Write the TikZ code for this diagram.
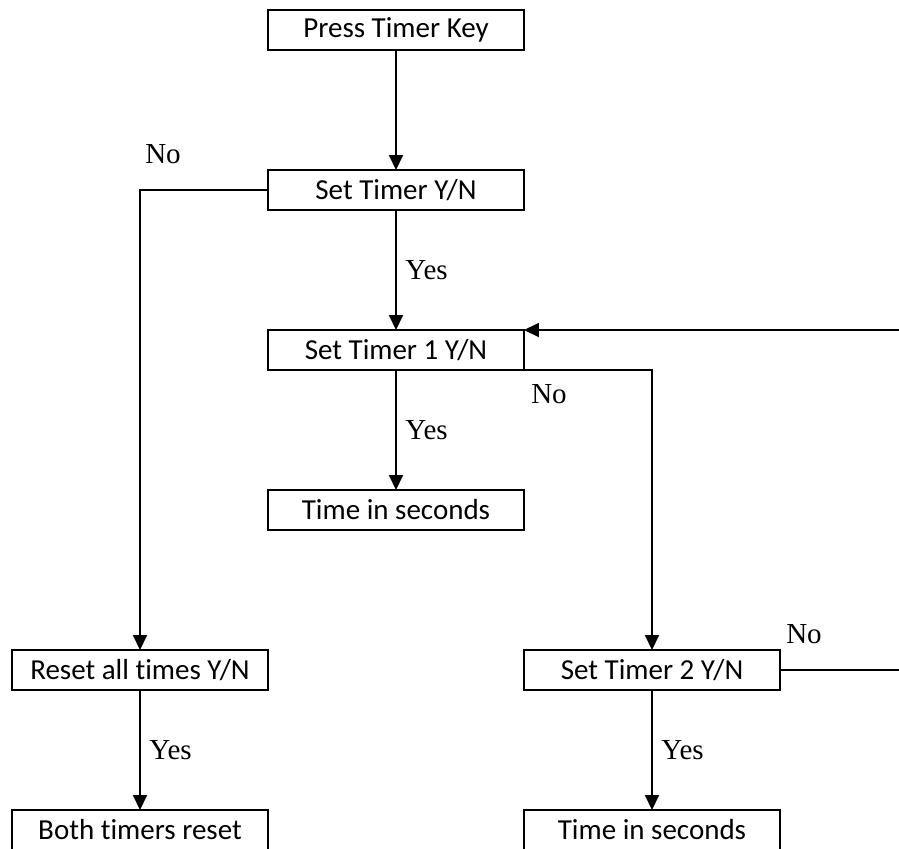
\documentclass[tikz,border=0pt]{standalone}
\usepackage{fontspec}
\setmainfont{Liberation Serif}
\newfontfamily\boxfont[Ligatures=NoCommon]{Carlito}
\usetikzlibrary{arrows.meta,positioning}

\begin{document}
\begin{tikzpicture}[->,>={Triangle[length=8.5pt,width=8pt]},line width=0.8pt,
    box node/.style={rectangle,draw,minimum width=5.12cm,minimum height=0.8cm,inner sep=0pt,outer sep=0pt,font=\boxfont\fontsize{16.5}{19}\selectfont},
    lbl/.style={font=\fontsize{16.5}{19}\selectfont,inner sep=1pt}]

  \clip (0,0) rectangle (17.98,-16.96);

  \node[box node] (press) at (7.92,-0.6) {Press Timer Key};
  \node[box node] (set)    [below=2.4cm of press] {Set Timer Y/N};
  \node[box node] (timer1) [below=2.4cm of set] {Set Timer 1 Y/N};
  \node[box node] (secs1)  [below=2.4cm of timer1] {Time in seconds};
  \node[box node] (reset)  [below=2.4cm of secs1.south west,anchor=north east] {Reset all times Y/N};
  \node[box node] (timer2) [below=2.4cm of secs1.south east,anchor=north west] {Set Timer 2 Y/N};
  \node[box node] (both)   [below=2.4cm of reset] {Both timers reset};
  \node[box node] (secs2)  [below=2.4cm of timer2] {Time in seconds};

  \coordinate (back) at ([xshift=3.0cm]timer2.east);

  \draw (press) -- (set);
  \draw (set) -- node[lbl,right=4pt] {Yes} (timer1);
  \draw (timer1) -- node[lbl,right=4pt] {Yes} (secs1);
  \draw (set.west) -| (reset.north);
  \draw (reset) -- node[lbl,right=4pt] {Yes} (both);
  \draw (timer1.south east) -| (timer2.north);
  \draw (timer2) -- node[lbl,right=4pt] {Yes} (secs2);
  \draw (timer2.east) -- (back) |- (timer1.north east);

  \node[lbl] (no1) at ([shift={(-2.1,0.72)}]set.west) {No};
  \node[lbl] (no2) at ([shift={(0.5,-0.48)}]timer1.south east) {No};
  \node[lbl] (no3) at ([shift={(0.48,0.72)}]timer2.east) {No};

\end{tikzpicture}
\end{document}
